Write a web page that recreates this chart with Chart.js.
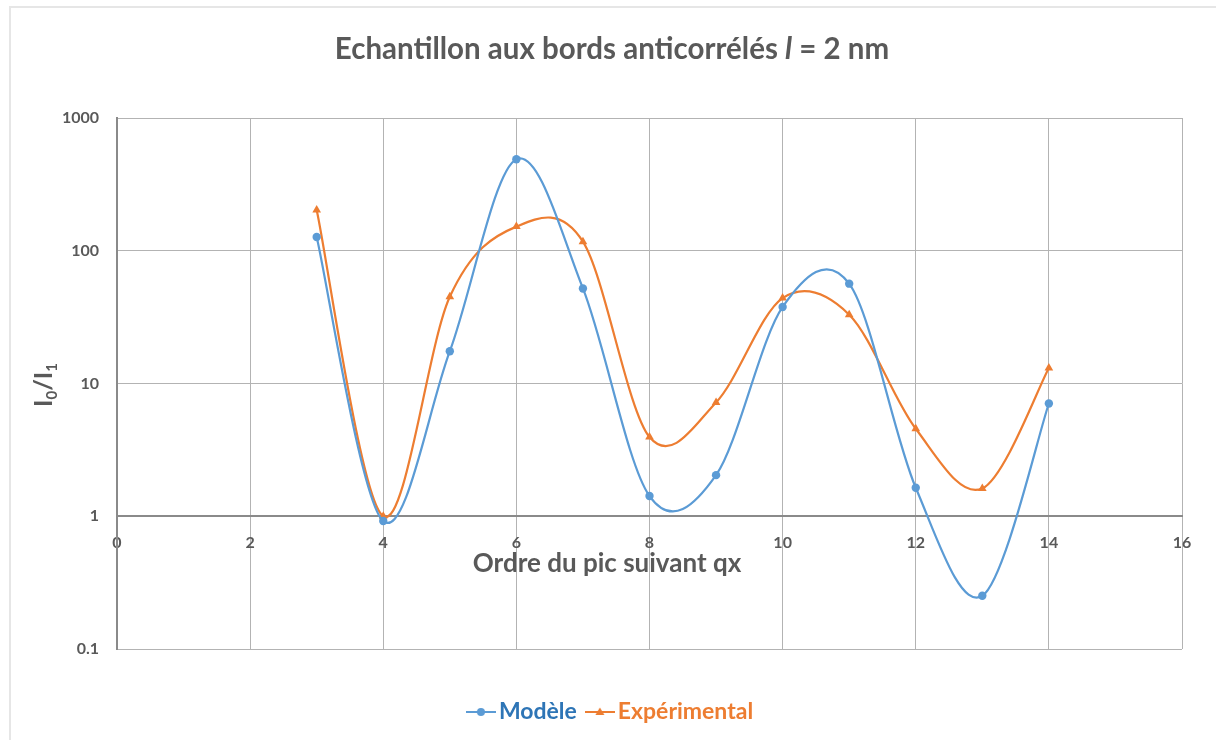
<!DOCTYPE html>
<html>
<head>
<meta charset="utf-8">
<title>Echantillon aux bords anticorrélés</title>
<script src="https://cdn.jsdelivr.net/npm/chart.js@4.4.1/dist/chart.umd.min.js"></script>
<style>
    html, body { margin: 0; padding: 0; background: #fff; }
    #wrap { position: relative; width: 1216px; height: 740px; overflow: hidden; }
    #frame { position: absolute; left: 9px; top: 6px; right: -4px; bottom: -4px;
             border-left: 2px solid #e6e6e6; border-top: 2px solid #e6e6e6; }
    #chart { position: absolute; left: 0; top: 0; }
</style>
</head>
<body>
<div id="wrap">
    <div id="frame"></div>
    <canvas id="chart" width="1216" height="740"></canvas>
</div>
<script>
'use strict';

// ordre du pic (axe x)
const orders = [3, 4, 5, 6, 7, 8, 9, 10, 11, 12, 13, 14];
// rapport I0/I1, modèle et mesure
const modele = [127, 0.92, 17.5, 489, 52, 1.42, 2.04, 37.7, 56.5, 1.64, 0.252, 7.07];
const experimental = [203, 1.0, 45, 152, 117, 3.95, 7.2, 44, 33, 4.56, 1.62, 13.1];
// graduations
const yTicks = [0.1, 1, 10, 100, 1000];
const xTicks = [0, 2, 4, 6, 8, 10, 12, 14, 16];

const blue = '#5b9bd5';
const orange = '#ed7d31';
const grey = '#595959';
const FONT = 'Lato, "Open Sans", sans-serif';

// petite icône de légende : trait + marqueur
function legendIcon(color, shape) {
    const c = document.createElement('canvas');
    c.width = 30;
    c.height = 14;
    const g = c.getContext('2d');
    g.strokeStyle = color;
    g.fillStyle = color;
    g.lineWidth = 2;
    g.beginPath();
    g.moveTo(0, 7);
    g.lineTo(30, 7);
    g.stroke();
    g.beginPath();
    if (shape === 'circle') {
        g.arc(15, 7, 4, 0, Math.PI * 2);
    } else {
        g.moveTo(15, 2.5);
        g.lineTo(19.5, 10);
        g.lineTo(10.5, 10);
        g.closePath();
    }
    g.fill();
    return c;
}

const legendColors = ['#2e75b6', orange];
const legendIcons = [legendIcon(blue, 'circle'), legendIcon(orange, 'triangle')];

// lissage façon tableur : tangente = (suivant - précédent) / 6
const smoothLines = {
    id: 'smoothLines',
    beforeDatasetDraw(chart, args) {
        const pts = args.meta.data;
        const n = pts.length;
        for (let i = 0; i < n; i++) {
            const prev = pts[Math.max(i - 1, 0)];
            const next = pts[Math.min(i + 1, n - 1)];
            const dx = (next.x - prev.x) / 6;
            const dy = (next.y - prev.y) / 6;
            pts[i].cp1x = pts[i].x - dx;
            pts[i].cp1y = pts[i].y - dy;
            pts[i].cp2x = pts[i].x + dx;
            pts[i].cp2y = pts[i].y + dy;
        }
        args.meta.dataset._pointsUpdated = true;
    }
};

// écrit une suite de morceaux de texte (polices différentes) centrée sur cx
function drawParts(ctx, parts, cx, y) {
    let total = 0;
    parts.forEach(p => { ctx.font = p.f; p.w = ctx.measureText(p.t).width; total += p.w; });
    let x = cx - total / 2;
    parts.forEach(p => { ctx.font = p.f; ctx.fillText(p.t, x, y + (p.dy || 0)); x += p.w; });
}

// titre (avec le l en italique), titre de l'axe x et titre de l'axe y avec indices
const richTitles = {
    id: 'richTitles',
    afterDraw(chart) {
        const ctx = chart.ctx;
        ctx.save();
        ctx.fillStyle = grey;
        ctx.textBaseline = 'alphabetic';

        drawParts(ctx, [
            { t: 'Echantillon aux bords anticorrélés ', f: 'bold 29.5px ' + FONT },
            { t: 'l', f: 'italic bold 29.5px ' + FONT },
            { t: ' = 2 nm', f: 'bold 29.5px ' + FONT }
        ], 612, 59);

        drawParts(ctx, [
            { t: 'Ordre du pic suivant qx', f: 'bold 26px ' + FONT }
        ], 607, 572);

        // I0/I1 vertical
        ctx.translate(52, 385);
        ctx.rotate(-Math.PI / 2);
        drawParts(ctx, [
            { t: 'I', f: 'bold 25px ' + FONT },
            { t: '0', f: 'bold 15px ' + FONT, dy: 5 },
            { t: '/', f: 'bold 25px ' + FONT },
            { t: 'I', f: 'bold 25px ' + FONT },
            { t: '1', f: 'bold 15px ' + FONT, dy: 5 }
        ], 0, 0);
        ctx.restore();
    }
};

const ctx = document.getElementById('chart');
const chart = new Chart(ctx, {
    type: 'line',
    data: {
        datasets: [{
            label: 'Modèle',
            data: orders.map((o, i) => ({ x: o, y: modele[i] })),
            borderColor: blue,
            backgroundColor: blue,
            borderWidth: 2.2,
            pointStyle: 'circle',
            pointRadius: 4.2,
            pointBorderWidth: 0,
            tension: 0.4
        }, {
            label: 'Expérimental',
            data: orders.map((o, i) => ({ x: o, y: experimental[i] })),
            borderColor: orange,
            backgroundColor: orange,
            borderWidth: 2.2,
            pointStyle: 'triangle',
            pointRadius: 5,
            pointBorderWidth: 0,
            tension: 0.4
        }]
    },
    options: {
        responsive: false,
        animation: false,
        devicePixelRatio: 1,
        layout: {
            padding: { top: 118, left: 11.5, right: 0, bottom: 6.5 }
        },
        scales: {
            x: {
                type: 'linear',
                position: { y: 1 },
                min: 0,
                max: 16,
                afterBuildTicks: scale => { scale.ticks = xTicks.map(v => ({ value: v })); },
                ticks: {
                    padding: 17,
                    color: grey,
                    font: { family: FONT, size: 16, weight: 'bold' }
                },
                grid: { color: '#b3b3b3', lineWidth: 1, drawTicks: false },
                border: { color: '#8a8a8a', width: 2 }
            },
            y: {
                type: 'logarithmic',
                min: 0.1,
                max: 1000,
                afterBuildTicks: scale => { scale.ticks = yTicks.map(v => ({ value: v })); },
                afterFit: scale => { scale.width = 105.5; },
                ticks: {
                    padding: 18,
                    color: grey,
                    font: { family: FONT, size: 16, weight: 'bold' },
                    callback: v => String(v)
                },
                grid: {
                    color: c => (c.tick && c.tick.value === 1 ? '#8a8a8a' : '#b3b3b3'),
                    lineWidth: c => (c.tick && c.tick.value === 1 ? 2 : 1),
                    drawTicks: false
                },
                border: { color: '#8a8a8a', width: 2 }
            },
            // marge droite, rien n'y est dessiné
            yRight: {
                type: 'linear',
                position: 'right',
                ticks: { display: false },
                grid: { display: false },
                border: { display: false },
                afterFit: scale => { scale.width = 34; }
            }
        },
        plugins: {
            title: { display: false },
            tooltip: { enabled: false },
            legend: {
                position: 'bottom',
                title: {
                    display: true,
                    text: ' ',
                    font: { size: 12 },
                    padding: { top: 20.6, bottom: 0 }
                },
                labels: {
                    usePointStyle: true,
                    pointStyleWidth: 13,
                    padding: 16.5,
                    font: { family: FONT, size: 23, weight: 'bold' },
                    generateLabels: c => c.data.datasets.map((ds, i) => ({
                        text: ds.label,
                        fontColor: legendColors[i],
                        pointStyle: legendIcons[i],
                        fillStyle: ds.backgroundColor,
                        strokeStyle: ds.borderColor,
                        lineWidth: 0,
                        hidden: false,
                        datasetIndex: i
                    }))
                }
            }
        }
    },
    plugins: [smoothLines, richTitles]
});
</script>
</body>
</html>
